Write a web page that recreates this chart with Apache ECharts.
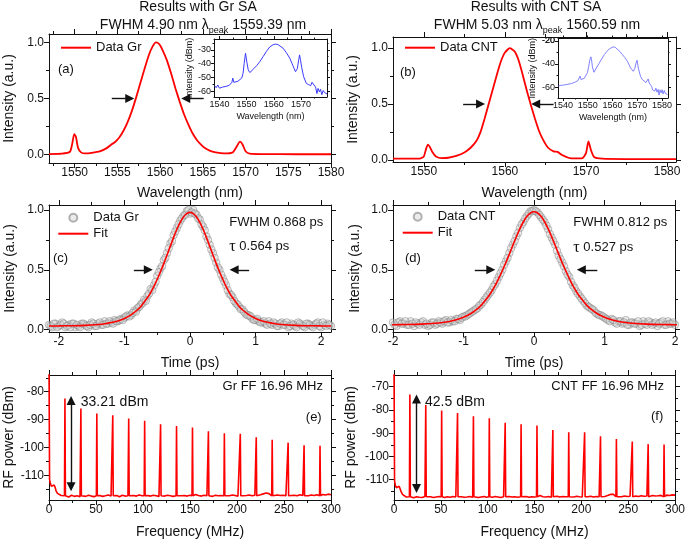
<!DOCTYPE html>
<html>
<head>
<meta charset="utf-8">
<script src="https://cdn.jsdelivr.net/npm/echarts@6/dist/echarts.min.js"></script>
<style>
html, body { margin: 0; padding: 0; background: #fff; }
#main { width: 685px; height: 539px; }
</style>
</head>
<body>
<div id="main"></div>
<script>
// ---- data ----
// (a) / (b) optical spectra, linear scale [nm, a.u.]
var grSpec = [[1547,0.005],[1548.5,0.008],[1549.45,0.025],[1549.7,0.09],[1549.95,0.182],[1550.15,0.16],[1550.4,0.06],[1550.75,0.02],[1551.2,0.01],[1552,0.015],[1553,0.03],[1553.8,0.06],[1554.3,0.09],[1554.7,0.11],[1555.2,0.15],[1555.7,0.21],[1556.2,0.29],[1556.7,0.39],[1557.2,0.51],[1557.7,0.64],[1558.2,0.77],[1558.7,0.89],[1559.1,0.96],[1559.5,1.0],[1559.9,0.985],[1560.3,0.93],[1560.8,0.84],[1561.3,0.72],[1561.8,0.59],[1562.3,0.47],[1562.8,0.36],[1563.3,0.27],[1563.8,0.19],[1564.3,0.13],[1564.7,0.095],[1565.2,0.06],[1565.8,0.035],[1566.5,0.02],[1567.5,0.01],[1568.5,0.02],[1568.95,0.07],[1569.35,0.115],[1569.65,0.09],[1570,0.03],[1570.5,0.008],[1572,0.004],[1576,0.003],[1580,0.003]];
var cntSpec = [[1546.2,0.01],[1549.5,0.01],[1550,0.03],[1550.25,0.09],[1550.5,0.135],[1550.75,0.115],[1551.05,0.07],[1551.5,0.03],[1552.2,0.015],[1553,0.018],[1554,0.035],[1555,0.065],[1555.8,0.11],[1556.5,0.17],[1557,0.25],[1557.5,0.37],[1558,0.5],[1558.5,0.63],[1559,0.76],[1559.5,0.88],[1560,0.96],[1560.6,1.0],[1561.2,0.97],[1561.7,0.89],[1562.2,0.76],[1562.7,0.62],[1563.2,0.49],[1563.7,0.37],[1564.2,0.26],[1564.7,0.18],[1565.3,0.11],[1566,0.075],[1566.5,0.07],[1567,0.045],[1568,0.015],[1569.5,0.012],[1570,0.06],[1570.3,0.165],[1570.6,0.09],[1571,0.025],[1572,0.01],[1576,0.006],[1581.1,0.005]];

// insets, log scale [nm, dBm]
var grInset = [[1538.2,-56],[1538.8,-57.5],[1539.4,-55.5],[1540,-57.8],[1540.6,-56.4],[1541.2,-57],[1541.8,-55.8],[1542.4,-56.5],[1543,-55.3],[1543.6,-55.8],[1544.2,-54.6],[1544.6,-53.5],[1544.9,-50.5],[1545.3,-53.6],[1546,-53.6],[1546.8,-52.8],[1547.5,-52.3],[1548.2,-50.5],[1548.7,-47],[1549.1,-40],[1549.6,-32.5],[1550.1,-39],[1550.6,-44.5],[1551.2,-46.5],[1551.9,-45.5],[1552.6,-43.8],[1553.7,-41.5],[1554.9,-38.5],[1556.1,-34.9],[1557.3,-31.2],[1558.5,-28],[1559.8,-26.3],[1560.7,-25.9],[1561.5,-26.2],[1562.2,-26.8],[1563.4,-28.8],[1564.6,-32],[1565.9,-36.1],[1567.1,-41.7],[1568,-45.9],[1568.7,-43.5],[1569.2,-37],[1569.5,-33.7],[1569.9,-38],[1570.3,-43],[1571,-49.5],[1572,-54.4],[1572.8,-55.2],[1573.6,-56],[1574.1,-53.5],[1574.4,-52.4],[1574.8,-55.5],[1575.4,-57],[1575.9,-61.7],[1576.3,-58],[1576.8,-60.5],[1577.2,-58.5],[1577.7,-62.5],[1578.2,-59.5],[1578.7,-61],[1579.2,-60],[1579.6,-62]];
var cntInset = [[1538.2,-59],[1538.8,-60.5],[1539.4,-58.5],[1540,-60],[1540.6,-58.2],[1541.3,-59.5],[1542,-57.6],[1542.7,-58.4],[1543.4,-57],[1544,-57.5],[1544.7,-56],[1545.4,-55.8],[1546,-54.5],[1546.5,-53],[1546.9,-50.5],[1547.3,-53.5],[1547.8,-54.2],[1548.6,-52.5],[1549.3,-51],[1549.9,-47.5],[1550.4,-42],[1550.9,-36],[1551.3,-33.9],[1551.6,-37.5],[1551.9,-42.6],[1552.5,-47.2],[1553.3,-45.5],[1554.7,-39.1],[1555.7,-35.4],[1556.7,-31.9],[1557.7,-29.2],[1558.7,-27],[1559.5,-25.8],[1560.3,-25.2],[1561.2,-25.8],[1562,-27],[1563,-29.3],[1564,-31.9],[1565,-34.6],[1566,-37.7],[1567.3,-43.5],[1568.4,-46.4],[1569,-44],[1569.4,-40],[1569.9,-36.8],[1570.4,-43.5],[1571.3,-50.7],[1572,-53.4],[1572.7,-55],[1573.5,-56.2],[1574.1,-55],[1574.4,-53],[1574.8,-56.5],[1575.3,-58],[1575.8,-59.5],[1576.2,-62.5],[1576.7,-60.9],[1577.1,-63.5],[1577.5,-61],[1578,-64.5],[1578.4,-62],[1578.8,-67],[1579.2,-62.5],[1579.6,-65],[1580,-62.3],[1580.4,-66],[1580.9,-63],[1581.3,-65.5],[1581.8,-64],[1582.2,-66.5]];

// (c) / (d) autocorrelation traces
var delayPs = [-2.15,-2.1,-2.05,-2,-1.95,-1.9,-1.85,-1.8,-1.75,-1.7,-1.65,-1.6,-1.55,-1.5,-1.45,-1.4,-1.35,-1.3,-1.25,-1.2,-1.15,-1.1,-1.05,-1,-0.95,-0.9,-0.85,-0.8,-0.75,-0.7,-0.65,-0.6,-0.55,-0.5,-0.45,-0.4,-0.35,-0.3,-0.25,-0.2,-0.15,-0.1,-0.05,0,0.05,0.1,0.15,0.2,0.25,0.3,0.35,0.4,0.45,0.5,0.55,0.6,0.65,0.7,0.75,0.8,0.85,0.9,0.95,1,1.05,1.1,1.15,1.2,1.25,1.3,1.35,1.4,1.45,1.5,1.55,1.6,1.65,1.7,1.75,1.8,1.85,1.9,1.95,2,2.05,2.1,2.15];
var pulseGr = [0.04,0.02,0.05,0.03,0.06,0.02,0.04,0.05,0.02,0.03,0.05,0.04,0.02,0.06,0.03,0.05,0.04,0.07,0.05,0.06,0.08,0.07,0.09,0.10,0.12,0.12,0.16,0.18,0.21,0.25,0.28,0.34,0.37,0.45,0.51,0.58,0.64,0.72,0.79,0.85,0.91,0.95,0.99,0.97,1.00,0.96,0.92,0.86,0.78,0.71,0.64,0.56,0.50,0.43,0.37,0.30,0.27,0.22,0.19,0.17,0.13,0.12,0.09,0.08,0.07,0.06,0.05,0.07,0.04,0.05,0.03,0.06,0.04,0.02,0.05,0.03,0.06,0.04,0.02,0.05,0.03,0.04,0.06,0.02,0.04,0.05,0.03];
var pulseCnt = [0.05,0.06,0.04,0.06,0.03,0.07,0.05,0.04,0.07,0.03,0.05,0.06,0.04,0.03,0.06,0.04,0.07,0.05,0.08,0.06,0.07,0.09,0.08,0.11,0.12,0.14,0.16,0.18,0.21,0.25,0.29,0.33,0.38,0.44,0.50,0.57,0.64,0.71,0.78,0.85,0.90,0.95,0.99,1.00,0.98,0.94,0.90,0.84,0.77,0.71,0.62,0.56,0.49,0.44,0.37,0.32,0.28,0.24,0.20,0.18,0.16,0.13,0.12,0.10,0.08,0.09,0.06,0.07,0.05,0.08,0.04,0.06,0.05,0.03,0.07,0.04,0.06,0.05,0.03,0.06,0.04,0.07,0.05,0.04,0.06,0.05,0.04];
var delayPsMid = [-2.125,-2.075,-2.025,-1.975,-1.925,-1.875,-1.825,-1.775,-1.725,-1.675,-1.625,-1.575,-1.525,-1.475,-1.425,-1.375,-1.325,-1.275,-1.225,-1.175,-1.125,-1.075,-1.025,-0.975,-0.925,-0.875,-0.825,-0.775,-0.725,-0.675,-0.625,-0.575,-0.525,-0.475,-0.425,-0.375,-0.325,-0.275,-0.225,-0.175,-0.125,-0.075,-0.025,0.025,0.075,0.125,0.175,0.225,0.275,0.325,0.375,0.425,0.475,0.525,0.575,0.625,0.675,0.725,0.775,0.825,0.875,0.925,0.975,1.025,1.075,1.125,1.175,1.225,1.275,1.325,1.375,1.425,1.475,1.525,1.575,1.625,1.675,1.725,1.775,1.825,1.875,1.925,1.975,2.025,2.075,2.125];
var pulseGrMid = [0.03,0.05,0.02,0.04,0.05,0.03,0.02,0.05,0.04,0.02,0.05,0.03,0.04,0.05,0.03,0.06,0.04,0.05,0.07,0.05,0.07,0.08,0.08,0.11,0.11,0.14,0.15,0.19,0.22,0.24,0.30,0.33,0.40,0.48,0.53,0.60,0.68,0.74,0.82,0.88,0.93,0.96,1.00,0.98,0.97,0.93,0.88,0.83,0.75,0.67,0.60,0.52,0.46,0.40,0.33,0.29,0.24,0.21,0.17,0.15,0.12,0.11,0.08,0.09,0.06,0.07,0.04,0.05,0.06,0.03,0.05,0.04,0.06,0.03,0.04,0.02,0.05,0.03,0.05,0.04,0.02,0.05,0.03,0.06,0.03,0.04];
var pulseCntMid = [0.04,0.07,0.05,0.04,0.06,0.05,0.07,0.04,0.05,0.06,0.04,0.07,0.05,0.04,0.06,0.05,0.06,0.07,0.06,0.08,0.07,0.09,0.10,0.11,0.13,0.15,0.17,0.20,0.23,0.27,0.31,0.36,0.41,0.47,0.54,0.60,0.68,0.74,0.81,0.88,0.93,0.97,0.99,0.99,0.96,0.92,0.87,0.80,0.74,0.66,0.59,0.53,0.46,0.40,0.35,0.30,0.26,0.22,0.19,0.17,0.14,0.12,0.11,0.09,0.07,0.08,0.05,0.07,0.06,0.04,0.06,0.05,0.07,0.04,0.05,0.07,0.04,0.06,0.05,0.07,0.04,0.05,0.06,0.04,0.05,0.06];
var fitPs = [-2.15,-2,-1.8,-1.6,-1.4,-1.3,-1.2,-1.1,-1,-0.9,-0.8,-0.75,-0.7,-0.65,-0.6,-0.55,-0.5,-0.45,-0.4,-0.35,-0.3,-0.25,-0.2,-0.15,-0.1,-0.05,0,0.05,0.1,0.15,0.2,0.25,0.3,0.35,0.4,0.45,0.5,0.55,0.6,0.65,0.7,0.75,0.8,0.9,1,1.1,1.2,1.3,1.4,1.6,1.8,2,2.15];
var fitGr = [0.0305,0.031,0.0326,0.0357,0.043,0.049,0.0587,0.0725,0.093,0.123,0.166,0.194,0.2295,0.266,0.31,0.361,0.421,0.484,0.552,0.624,0.698,0.771,0.839,0.897,0.942,0.97,0.98,0.97,0.942,0.897,0.839,0.771,0.698,0.624,0.552,0.484,0.421,0.361,0.31,0.266,0.2295,0.194,0.166,0.123,0.093,0.0725,0.0587,0.049,0.043,0.0357,0.0326,0.031,0.0305];
var fitCnt = [0.0405,0.0411,0.0426,0.0457,0.0527,0.059,0.0685,0.082,0.103,0.133,0.176,0.203,0.238,0.275,0.319,0.370,0.429,0.492,0.559,0.631,0.705,0.777,0.845,0.902,0.947,0.975,0.985,0.975,0.947,0.902,0.845,0.777,0.705,0.631,0.559,0.492,0.429,0.370,0.319,0.275,0.238,0.203,0.176,0.133,0.103,0.082,0.0685,0.059,0.0527,0.0457,0.0426,0.0411,0.0405];

// (e) / (f) RF spectra
var combMhz = [16.96,33.92,50.88,67.84,84.8,101.76,118.72,135.68,152.64,169.6,186.56,203.52,220.48,237.44,254.4,271.36,288.32];
var grCombDbm = [-82.4,-86.0,-87.8,-88.5,-89.6,-90.4,-91.7,-92.3,-92.9,-94.2,-94.9,-95.1,-96.4,-97.3,-98.3,-99.2,-99.4];
var cntCombDbm = [-73.4,-77.9,-80.3,-81.3,-82.7,-83.6,-85.5,-86.2,-86.7,-88.6,-89.6,-89.6,-91.3,-92.5,-93.6,-94.7,-94.9];
var grBaseDbm = -117.4, cntBaseDbm = -117.3;
var floorMhz = [0,0.6,1.5,2.5,3.5,4.5,5.5,6.5,7.5,9,11,13,15,
  18,21,24,27,30,33,36,39,42,45,48,51,54,57,60,63,66,69,72,75,78,81,84,87,90,93,96,99,
  102,105,108,111,114,117,120,123,126,129,132,135,138,141,144,147,150,153,156,159,162,165,168,171,174,177,180,183,186,189,192,195,198,
  201,204,207,210,213,216,219,222,225,228,231,234,237,240,243,246,249,252,255,258,261,264,267,270,273,276,279,282,285,288,291,294,297,300];
var grFloorDbm = [-70,-111.5,-113,-114,-114.6,-113.8,-113.5,-114.3,-115.6,-116.5,-117,-117.3,-117.6,
  -117.5,-117.8,-117.2,-117.6,-117.4,-117.7,-117.3,-117.6,-117.2,-117.5,-117.7,-117.4,-117.3,-117.6,-117.4,-117.1,-117.5,-117.6,-117.3,-117.7,-117.2,-117.5,-117.4,-117.6,-117.3,-117.5,-117.1,-117.4,
  -117.6,-117.3,-117.5,-117.2,-117.4,-117.6,-117.3,-117.5,-117.2,-117.4,-117.6,-117.3,-117.1,-117.4,-117.3,-117.5,-117.2,-117.4,-116.9,-117.3,-117.5,-117.2,-117.4,-117.3,-117.6,-117.2,-117.4,-117.3,-117.5,-117.2,-117.4,-117.1,-117.3,
  -117.5,-117.2,-117.4,-117.3,-117.1,-117.4,-117.2,-117.3,-117.0,-116.7,-116.4,-116.6,-117.0,-117.3,-117.1,-117.3,-117.2,-117.4,-117.1,-117.3,-117.2,-117.4,-117.0,-117.3,-117.2,-117.4,-117.1,-117.3,-117.0,-117.2,-116.9,-117.1,-116.8,-117.0];
var cntFloorDbm = [-60,-110.5,-112.5,-113.4,-113.8,-113,-112.8,-113.5,-115,-116.3,-117,-117.4,-117.6,
  -117.4,-117.7,-117.3,-117.5,-117.6,-117.2,-117.5,-117.3,-117.6,-117.4,-117.2,-117.5,-117.6,-117.3,-117.5,-117.2,-117.4,-117.6,-117.3,-117.5,-117.4,-117.2,-117.5,-117.3,-117.6,-117.4,-117.2,-117.5,
  -117.3,-117.5,-117.2,-117.4,-117.6,-117.3,-117.5,-117.2,-117.4,-117.3,-117.5,-117.1,-117.4,-117.2,-117.5,-117.3,-117.4,-117.2,-116.8,-117.3,-117.4,-117.2,-117.5,-117.3,-117.1,-117.4,-117.2,-117.3,-117.5,-117.2,-117.4,-117.1,-117.3,
  -117.4,-117.2,-117.3,-117.1,-117.4,-117.2,-117.3,-117.0,-117.2,-116.8,-116.3,-116.2,-116.7,-117.1,-117.3,-117.0,-117.2,-117.1,-117.3,-117.0,-117.2,-116.9,-117.1,-117.0,-117.2,-116.8,-117.0,-116.9,-116.7,-116.9,-116.6,-116.8,-116.5,-116.6];

// tick values
var ticksWlA = [1550,1555,1560,1565,1570,1575,1580];
var ticksWlB = [1550,1560,1570,1580];
var ticksInt = [0,0.5,1];
var ticksPs = [-2,-1,0,1,2];
var ticksMhz = [0,50,100,150,200,250,300];
var ticksRfE = [-110,-100,-90,-80];
var ticksRfF = [-110,-100,-90,-80,-70];
var ticksInsetWlA = [1540,1550,1560,1570];
var ticksInsetWlB = [1540,1550,1560,1570,1580];
var ticksInsetDbmA = [-60,-50,-40,-30];
var ticksInsetDbmB = [-60,-40,-20];

var legendText = {specGr:'Data Gr', specCnt:'Data CNT', pulseGr:'Data Gr', pulseCnt:'Data CNT', fitGr:'Fit', fitCnt:'Fit'};

// ---- helpers ----
var FONT = '"Liberation Sans", Arial, sans-serif';
var INK = '#111';
var RED = '#ff0000';
var grids = [], xAxes = [], yAxes = [];

function minorOf(ticks, lo, hi) {
    var step = ticks[1] - ticks[0], out = [];
    for (var i = -1; i < ticks.length; i++) {
        var v = (i < 0 ? ticks[0] - step : ticks[i]) + step / 2;
        if (v > lo && v < hi) out.push(+v.toFixed(6));
    }
    return out;
}

function makeAxis(g, pos, range, vals, o) {
    var a = {
        type: 'value', gridIndex: g, position: pos, min: range[0], max: range[1],
        axisLine: {show: !o.minor, onZero: false, lineStyle: {color: INK, width: 1}},
        axisTick: {show: true, inside: false, length: o.len, customValues: vals, lineStyle: {color: INK, width: 1}},
        axisLabel: {show: !!o.label, customValues: vals, fontFamily: FONT, fontSize: o.fs || 12, color: INK, margin: o.margin || 4,
            showMinLabel: true, showMaxLabel: true, hideOverlap: false,
            formatter: o.fmt || function (v) { return String(v); }},
        splitLine: {show: false}, minorTick: {show: false}, axisPointer: {show: false}
    };
    if (o.name) {
        a.name = o.name; a.nameLocation = 'middle'; a.nameGap = o.gap;
        a.nameTextStyle = {fontFamily: FONT, fontSize: o.nfs, color: INK};
    }
    return a;
}

function addPanel(box, xr, yr, xt, yt, o) {
    var g = grids.length;
    grids.push({left: box[0], top: box[1], width: box[2], height: box[3], containLabel: false, outerBoundsMode: 'none'});
    var big = o.inset ? 3 : 5, small = o.inset ? 1.5 : 3, fs = o.inset ? 9 : 12, nfs = o.inset ? 9 : 14;
    var xi = xAxes.length, yi = yAxes.length;
    var xm = minorOf(xt, xr[0], xr[1]), ym = minorOf(yt, yr[0], yr[1]);
    xAxes.push(makeAxis(g, 'bottom', xr, xt, {len: big, label: true, fs: fs, margin: o.inset ? 3 : 4, name: o.xName, gap: o.xGap, nfs: nfs}));
    xAxes.push(makeAxis(g, 'top', xr, xt, {len: big}));
    xAxes.push(makeAxis(g, 'bottom', xr, xm, {len: small, minor: true}));
    xAxes.push(makeAxis(g, 'top', xr, xm, {len: small, minor: true}));
    yAxes.push(makeAxis(g, 'left', yr, yt, {len: big, label: true, fs: fs, margin: o.inset ? 3 : 5, fmt: o.yFmt, name: o.yName, gap: o.yGap, nfs: nfs}));
    yAxes.push(makeAxis(g, 'right', yr, yt, {len: big}));
    yAxes.push(makeAxis(g, 'left', yr, ym, {len: small, minor: true}));
    yAxes.push(makeAxis(g, 'right', yr, ym, {len: small, minor: true}));
    return {x: xi, y: yi};
}

function pairs(xs, ys) { return xs.map(function (x, i) { return [x, ys[i]]; }); }

function combTrace(floorDbm, base, peaks) {
    var pts = [];
    floorMhz.forEach(function (f, i) {
        var near = combMhz.some(function (c) { return Math.abs(c - f) < 0.7; });
        if (!near) pts.push([f, floorDbm[i]]);
    });
    combMhz.forEach(function (c, i) { pts.push([c - 0.5, base], [c, peaks[i]], [c + 0.5, base]); });
    pts.sort(function (a, b) { return a[0] - b[0]; });
    return pts;
}

function arrows(segs, both) {
    return {
        silent: true, animation: false,
        symbol: both ? ['triangle', 'triangle'] : ['none', 'triangle'], symbolSize: 9,
        label: {show: false}, emphasis: {disabled: true},
        lineStyle: {color: INK, width: 1.4, type: 'solid'},
        data: segs.map(function (s) { return [{coord: s[0]}, {coord: s[1]}]; })
    };
}

var fmt1 = function (v) { return v.toFixed(1); };

// ---- panels ----
var pA = addPanel([49, 34, 282, 129], [1547, 1580], [-0.075, 1.075], ticksWlA, ticksInt,
    {xName: 'Wavelength (nm)', xGap: 23, yName: 'Intensity (a.u.)', yGap: 33, yFmt: fmt1});
var pAi = addPanel([214, 39, 113, 58], [1538, 1579.6], [-64.2, -22.2], ticksInsetWlA, ticksInsetDbmA,
    {inset: true, xName: 'Wavelength (nm)', xGap: 15, yName: 'Intensity (dBm)', yGap: 16});
var pB = addPanel([393, 37, 283, 125], [1546.2, 1581.1], [-0.02, 1.1], ticksWlB, ticksInt,
    {xName: 'Wavelength (nm)', xGap: 24, yName: 'Intensity (a.u.)', yGap: 33, yFmt: fmt1});
var pBi = addPanel([558, 38.5, 110, 59.5], [1538, 1582.4], [-69.5, -18], ticksInsetWlB, ticksInsetDbmB,
    {inset: true, xName: 'Wavelength (nm)', xGap: 15, yName: 'Intensity (dBm)', yGap: 21});
var pC = addPanel([49, 205, 282, 127], [-2.15, 2.15], [-0.02, 1.042], ticksPs, ticksInt,
    {xName: 'Time (ps)', xGap: 24, yName: 'Intensity (a.u.)', yGap: 32, yFmt: fmt1});
var pD = addPanel([393, 205, 282, 127], [-2, 2], [-0.02, 1.042], ticksPs, ticksInt,
    {xName: 'Time (ps)', xGap: 24, yName: 'Intensity (a.u.)', yGap: 31, yFmt: fmt1});
var pE = addPanel([49, 375, 282, 125], [0, 300], [-118.9, -74], ticksMhz, ticksRfE,
    {xName: 'Frequency (MHz)', xGap: 25, yName: 'RF power (dBm)', yGap: 33});
var pF = addPanel([394, 375, 281, 125], [0, 300], [-118.7, -65], ticksMhz, ticksRfF,
    {xName: 'Frequency (MHz)', xGap: 25, yName: 'RF power (dBm)', yGap: 36});

var dotStyle = {color: 'rgba(210,210,210,0.55)', borderColor: 'rgba(100,100,100,0.6)', borderWidth: 0.8};

var series = [
    {type: 'line', name: 'specGr', xAxisIndex: pA.x, yAxisIndex: pA.y, data: grSpec, symbol: 'none', smooth: 0.2,
        lineStyle: {color: RED, width: 1.8}, itemStyle: {color: RED}, clip: true,
        markLine: arrows([[[1554.35, 0.5], [1556.45, 0.5]], [[1565.1, 0.5], [1563.0, 0.5]]])},
    {type: 'line', name: 'insetGr', xAxisIndex: pAi.x, yAxisIndex: pAi.y, data: grInset, symbol: 'none',
        lineStyle: {color: '#3a3aff', width: 1}, clip: true},
    {type: 'line', name: 'specCnt', xAxisIndex: pB.x, yAxisIndex: pB.y, data: cntSpec, symbol: 'none', smooth: 0.2,
        lineStyle: {color: RED, width: 1.8}, itemStyle: {color: RED}, clip: true,
        markLine: arrows([[[1554.85, 0.5], [1557.0, 0.5]], [[1566.0, 0.5], [1563.8, 0.5]]])},
    {type: 'line', name: 'insetCnt', xAxisIndex: pBi.x, yAxisIndex: pBi.y, data: cntInset, symbol: 'none',
        lineStyle: {color: '#7373ff', width: 0.9}, clip: true},
    {type: 'scatter', name: 'pulseGr', xAxisIndex: pC.x, yAxisIndex: pC.y,
        data: pairs(delayPs, pulseGr).concat(pairs(delayPsMid, pulseGrMid)), symbolSize: 7.5,
        itemStyle: dotStyle, clip: true},
    {type: 'line', name: 'fitGr', xAxisIndex: pC.x, yAxisIndex: pC.y, data: pairs(fitPs, fitGr), symbol: 'none', smooth: 0.3,
        lineStyle: {color: RED, width: 1.6}, itemStyle: {color: RED}, clip: true,
        markLine: arrows([[[-0.856, 0.5], [-0.636, 0.5]], [[0.902, 0.5], [0.673, 0.5]]])},
    {type: 'scatter', name: 'pulseCnt', xAxisIndex: pD.x, yAxisIndex: pD.y,
        data: pairs(delayPs, pulseCnt).concat(pairs(delayPsMid, pulseCntMid)), symbolSize: 7.5,
        itemStyle: dotStyle, clip: true},
    {type: 'line', name: 'fitCnt', xAxisIndex: pD.x, yAxisIndex: pD.y, data: pairs(fitPs, fitCnt), symbol: 'none', smooth: 0.3,
        lineStyle: {color: RED, width: 1.6}, itemStyle: {color: RED}, clip: true,
        markLine: arrows([[[-0.84, 0.5], [-0.613, 0.5]], [[0.898, 0.5], [0.671, 0.5]]])},
    {type: 'line', name: 'rfGr', xAxisIndex: pE.x, yAxisIndex: pE.y, data: combTrace(grFloorDbm, grBaseDbm, grCombDbm), symbol: 'none',
        lineStyle: {color: RED, width: 1.6}, clip: true,
        markLine: arrows([[[23.5, -83.2], [23.5, -114.1]]], true)},
    {type: 'line', name: 'rfCnt', xAxisIndex: pF.x, yAxisIndex: pF.y, data: combTrace(cntFloorDbm, cntBaseDbm, cntCombDbm), symbol: 'none',
        lineStyle: {color: RED, width: 1.6}, clip: true,
        markLine: arrows([[[24, -75.3], [24, -113.8]]], true)}
];

var lineOnly = {opacity: 0};
function legendAt(items, left, top) {
    return {
        data: items, left: left, top: top, orient: 'vertical', padding: 0, itemGap: 2,
        itemWidth: 30, itemHeight: 8, selectedMode: false,
        textStyle: {fontFamily: FONT, fontSize: 13, color: INK, lineHeight: 14},
        formatter: function (n) { return legendText[n]; }
    };
}

function txt(x, y, text, align, size, extra, valign) {
    var st = {text: text, fontFamily: FONT, fontSize: size, fill: INK, align: align, verticalAlign: valign || 'middle'};
    if (extra) for (var k in extra) st[k] = extra[k];
    return {type: 'text', x: x, y: y, silent: true, style: st};
}

// a centred line "pre + subscript + post", laid out from measured widths;
// every piece is anchored by its bottom edge
var measureCtx = document.createElement('canvas').getContext('2d');
function textWidth(s, size) { measureCtx.font = size + 'px ' + FONT; return measureCtx.measureText(s).width; }
function subLine(cx, bottom, pre, sub, post) {
    var w1 = textWidth(pre, 14), w2 = textWidth(sub, 9), w3 = textWidth(post, 14);
    var x0 = cx - (w1 + w2 + w3) / 2;
    return [
        txt(x0, bottom, pre, 'left', 14, null, 'bottom'),
        txt(x0 + w1, bottom + 3, sub, 'left', 9, null, 'bottom'),
        txt(x0 + w1 + w2, bottom, post, 'left', 14, null, 'bottom')
    ];
}
var tauRich = {t: {fontSize: 16, fontFamily: '"Liberation Serif", serif', fill: INK}};

var notes = [
    txt(198, 7, 'Results with Gr SA', 'center', 14),
    txt(536, 7, 'Results with CNT SA', 'center', 14),
    txt(58, 69, '(a)', 'left', 13),
    txt(400, 72.7, '(b)', 'left', 13),
    txt(53, 258.3, '(c)', 'left', 13),
    txt(405, 258.3, '(d)', 'left', 13),
    txt(321.7, 417.7, '(e)', 'right', 13),
    txt(663.3, 416.7, '(f)', 'right', 13),
    txt(229.3, 222.3, 'FWHM 0.868 ps', 'left', 13),
    txt(229.3, 246.7, '{t|\u03c4} 0.564 ps', 'left', 13, {rich: tauRich}),
    txt(573.3, 222.3, 'FWHM 0.812 ps', 'left', 13),
    txt(573.3, 247.3, '{t|\u03c4} 0.527 ps', 'left', 13, {rich: tauRich}),
    txt(323, 386.7, 'Gr FF 16.96 MHz', 'right', 13),
    txt(664, 386.7, 'CNT FF 16.96 MHz', 'right', 13),
    txt(80.7, 402.3, '33.21 dBm', 'left', 14),
    txt(425, 402.3, '42.5 dBm', 'left', 14),
    // top tick label of inset (b), which the axis drops at the frame edge
    txt(555, 41, String(ticksInsetDbmB[2]), 'right', 9)
].concat(subLine(203, 32, 'FWHM 4.90 nm \u03bb', 'peak', ' 1559.39 nm'),
         subLine(537, 32, 'FWHM 5.03 nm \u03bb', 'peak', ' 1560.59 nm'));

var chart = echarts.init(document.getElementById('main'), null, {renderer: 'canvas'});
chart.setOption({
    animation: false,
    backgroundColor: '#fff',
    grid: grids,
    xAxis: xAxes,
    yAxis: yAxes,
    legend: [
        legendAt([{name: 'specGr', itemStyle: lineOnly}], 60, 40.7),
        legendAt([{name: 'specCnt', itemStyle: lineOnly}], 404, 40.7),
        legendAt(['pulseGr', {name: 'fitGr', itemStyle: lineOnly}], 57.3, 210.7),
        legendAt(['pulseCnt', {name: 'fitCnt', itemStyle: lineOnly}], 401.7, 209.7)
    ],
    series: series,
    graphic: {elements: notes}
});
</script>
</body>
</html>
